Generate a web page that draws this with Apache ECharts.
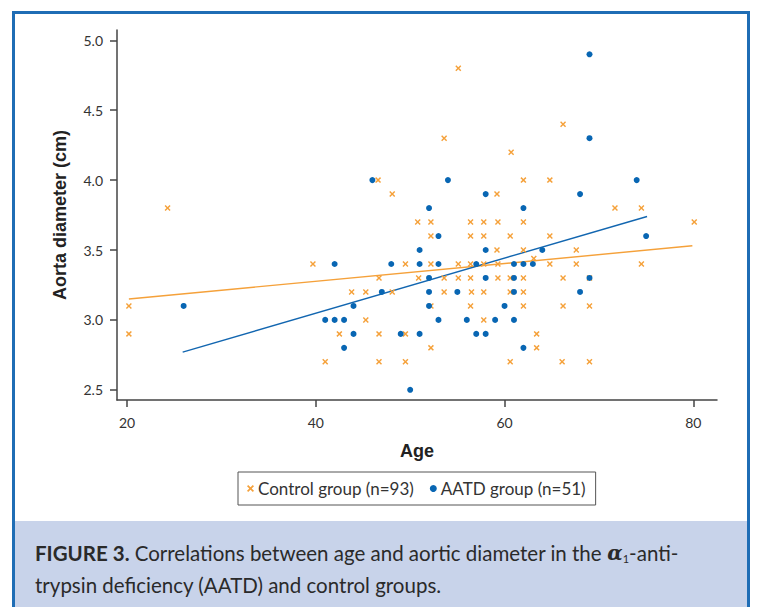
<!DOCTYPE html>
<html><head><meta charset="utf-8">
<script src="https://cdn.jsdelivr.net/npm/echarts@6/dist/echarts.min.js"></script>
<style>html,body{margin:0;padding:0;background:#fff}#c{width:760px;height:607px}</style>
</head><body><div id="c"></div>
<script>
const xTicks = [20, 40, 60, 80];
const yTicks = [2.5, 3.0, 3.5, 4.0, 4.5, 5.0];

const controlAge = [20.2,20.2,24.3,39.7,55.1,53.6,60.7,46.6,48.1,59.2,66.2,62.0,64.8,71.7,74.5,
  50.8,52.2,56.4,57.8,59.3,62.0,80.1,
  52.2,56.4,57.8,60.6,64.8,
  59.2,62.0,67.6,
  49.5,52.2,55.1,56.4,57.8,59.3,64.8,67.6,74.5,63.1,
  46.7,50.9,53.6,55.1,56.4,59.3,60.6,62.0,66.2,69.0,
  43.8,45.3,48.1,53.6,56.5,57.8,60.6,62.0,
  52.2,56.4,62.0,66.2,69.0,
  45.3,57.8,
  42.5,46.7,49.5,63.4,
  52.2,63.4,
  41.0,46.7,49.5,60.6,66.1,69.0];
const controlDiam = [3.1,2.9,3.8,3.4,4.8,4.3,4.2,4.0,3.9,3.9,4.4,4.0,4.0,3.8,3.8,
  3.7,3.7,3.7,3.7,3.7,3.7,3.7,
  3.6,3.6,3.6,3.6,3.6,
  3.5,3.5,3.5,
  3.4,3.4,3.4,3.4,3.4,3.4,3.4,3.4,3.4,3.44,
  3.3,3.3,3.3,3.3,3.3,3.3,3.3,3.3,3.3,3.3,
  3.2,3.2,3.2,3.2,3.2,3.2,3.2,3.2,
  3.1,3.1,3.1,3.1,3.1,
  3.0,3.0,
  2.9,2.9,2.9,2.9,
  2.8,2.8,
  2.7,2.7,2.7,2.7,2.7,2.7];

const aatdAge = [26,46,54,58,52,69,69,74,68,62,53,51,58,64,75,
  42,48,51,53,57,61,62,63,
  52,58,61,69,
  47,52,55,61,68,
  44,52,60,
  41,42,43,53,56,59,61,
  44,49,51,57,58,
  43,62,50];
const aatdDiam = [3.1,4.0,4.0,3.9,3.8,4.9,4.3,4.0,3.9,3.8,3.6,3.5,3.5,3.5,3.6,
  3.4,3.4,3.4,3.4,3.4,3.4,3.4,3.4,
  3.3,3.3,3.3,3.3,
  3.2,3.2,3.2,3.2,3.2,
  3.1,3.1,3.1,
  3.0,3.0,3.0,3.0,3.0,3.0,3.0,
  2.9,2.9,2.9,2.9,2.9,
  2.8,2.8,2.5];

const controlFitAge = [20.2, 79.9];
const controlFitDiam = [3.15, 3.53];
const aatdFitAge = [25.9, 75.1];
const aatdFitDiam = [2.77, 3.74];

const seriesNames = ['Control group (n=93)', 'AATD group (n=51)'];

const ORANGE = '#f5a13a';
const BLUE = '#0866b3';
const crossPath = 'path://M0,1.7L1.7,0L5,3.3L8.3,0L10,1.7L6.7,5L10,8.3L8.3,10L5,6.7L1.7,10L0,8.3L3.3,5Z';

const zip = (a, b) => a.map((v, i) => [v, b[i]]);

const chart = echarts.init(document.getElementById('c'), null, {renderer: 'svg'});
const axisText = {color: '#333', fontSize: 14, fontFamily: 'Lato'};
chart.setOption({
  animation: false,
  grid: {left: 117, right: 43, top: 30, bottom: 207},
  xAxis: {
    type: 'value', min: 18.94, max: 82.51,
    name: 'Age', nameLocation: 'middle', nameGap: 42,
    nameTextStyle: {fontFamily: 'Liberation Sans', fontWeight: 'bold', fontSize: 18, color: '#222'},
    axisLine: {lineStyle: {color: '#444', width: 1.5}},
    axisTick: {show: true, length: 7, customValues: xTicks, lineStyle: {color: '#444', width: 1.5}},
    axisLabel: {customValues: xTicks, margin: 15, ...axisText},
    splitLine: {show: false}
  },
  yAxis: {
    type: 'value', min: 2.427, max: 5.074,
    name: 'Aorta diameter (cm)', nameLocation: 'middle', nameGap: 48,
    nameTextStyle: {fontFamily: 'Liberation Sans', fontWeight: 'bold', fontSize: 18, color: '#222'},
    axisLine: {show: true, lineStyle: {color: '#444', width: 1.5}},
    axisTick: {show: true, length: 7, customValues: yTicks, lineStyle: {color: '#444', width: 1.5}},
    axisLabel: {customValues: yTicks, margin: 14, formatter: v => Number(v).toFixed(1), ...axisText},
    splitLine: {show: false}
  },
  legend: {
    data: [
      {name: seriesNames[0], icon: crossPath, itemStyle: {color: ORANGE}},
      {name: seriesNames[1], icon: 'circle', itemStyle: {color: BLUE}}
    ],
    left: 238, top: 472,
    padding: [8, 10, 8, 9],
    borderColor: '#555', borderWidth: 1,
    itemWidth: 7, itemHeight: 7, itemGap: 16,
    textStyle: {fontFamily: 'Lato', fontSize: 17, color: '#333', padding: [0, 0, 0, -1]}
  },
  series: [
    {name: seriesNames[0], type: 'scatter', symbol: crossPath, symbolSize: 6,
     itemStyle: {color: ORANGE, opacity: 1}, data: zip(controlAge, controlDiam), z: 3},
    {name: seriesNames[1], type: 'scatter', symbol: 'circle', symbolSize: 6,
     itemStyle: {color: BLUE, opacity: 1}, data: zip(aatdAge, aatdDiam), z: 4},
    {name: 'Control fit', type: 'line', symbol: 'none', silent: true,
     lineStyle: {color: ORANGE, width: 1.4}, data: zip(controlFitAge, controlFitDiam), z: 2},
    {name: 'AATD fit', type: 'line', symbol: 'none', silent: true,
     lineStyle: {color: '#1266b0', width: 1.4}, data: zip(aatdFitAge, aatdFitDiam), z: 2}
  ],
  graphic: [
    {type: 'rect', z: -10, shape: {x: 15, y: 521, width: 732, height: 90}, style: {fill: '#c8d3ea'}},
    {type: 'rect', z: -5, shape: {x: 13.5, y: 12.5, width: 735, height: 620}, style: {fill: 'none', stroke: '#1f6db5', lineWidth: 3}},
    {type: 'text', x: 35, y: 553, style: {
      text: '{b|FIGURE 3.} Correlations between age and aortic diameter in the {a|α}{s|1}-anti-',
      verticalAlign: 'middle', fill: '#2a2a2a', font: '20.5px Lato',
      rich: {
        b: {fontFamily: 'Lato', fontWeight: 'bold', fontSize: 20.5, fill: '#2a2a2a'},
        a: {fontFamily: 'DejaVu Serif', fontStyle: 'italic', fontWeight: 'bold', fontSize: 20, fill: '#2a2a2a'},
        s: {fontFamily: 'Lato', fontSize: 11, fill: '#2a2a2a', verticalAlign: 'bottom', lineHeight: 22}
      }
    }},
    {type: 'text', x: 35, y: 585, style: {
      text: 'trypsin deficiency (AATD) and control groups.',
      verticalAlign: 'middle', fill: '#2a2a2a', font: '20.5px Lato'
    }}
  ]
});
</script></body></html>
